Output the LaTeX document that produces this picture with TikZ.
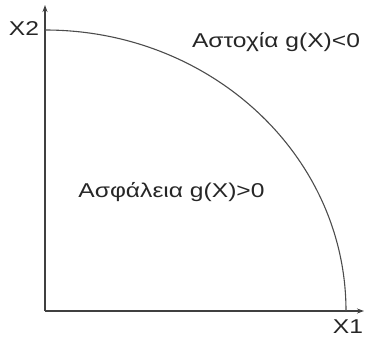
\documentclass[tikz,border=0pt]{standalone}
\usepackage{fontspec}
\setmainfont{Liberation Sans}
\usetikzlibrary{arrows.meta}
\newcommand{\wide}[1]{\scalebox{1.23}[1]{#1}}
\begin{document}
\begin{tikzpicture}[x=1pt,y=1pt,
  axis/.style={line width=1.6pt, draw=black!75, -{Stealth[length=7pt,width=5pt]}},
  curve/.style={line width=1.1pt, draw=black!70},
  lbl/.style={font=\fontsize{20}{22}\selectfont, text=black!85, inner sep=0pt}]
\useasboundingbox (0,0) rectangle (366,338);
\coordinate (O) at (45,27);
\coordinate (ytop) at (45,333);
\coordinate (xend) at (364,27);
\coordinate (cstart) at (45,308);
\draw[axis] (O) -- (ytop);
\draw[axis] (O) -- (xend);
\draw[curve] (cstart) arc[start angle=90, end angle=0, x radius=301, y radius=281];
\node[lbl] (x2) at (24,309) {\wide{X2}};
\node[lbl] (x1) at (348,11) {\wide{X1}};
\node[lbl] (fail) at (276,296) {\wide{Αστοχία g(X)<0}};
\node[lbl] (safe) at (171.5,146) {\wide{Ασφάλεια g(X)>0}};
\end{tikzpicture}
\end{document}
